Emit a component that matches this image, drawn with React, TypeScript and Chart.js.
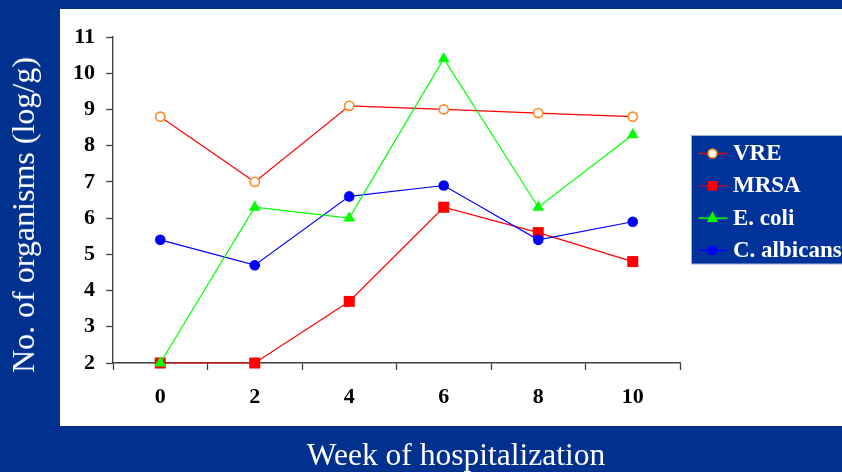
import React, { useEffect, useRef } from 'react';
import { Chart, registerables } from 'chart.js';

Chart.register(...registerables);

// Weeks of hospitalization (category labels on the x axis)
const weeks = ['0', '2', '4', '6', '8', '10'];

// Organism counts, log/g
const vre = [8.8, 7.0, 9.1, 9.0, 8.9, 8.8];
const mrsa = [2.0, 2.0, 3.7, 6.3, 5.6, 4.8];
const eColi = [2.0, 6.3, 6.0, 10.4, 6.3, 8.3];
const cAlbicans = [5.4, 4.7, 6.6, 6.9, 5.4, 5.9];

const yMin = 2;
const yMax = 11;

const SERIF = "'Liberation Serif', 'Times New Roman', serif";
const PAGE_BLUE = '#00318F';

type MarkerSpec = { style: string; fill: string; stroke: string; lineWidth: number; r: number };

function drawMarker(ctx: CanvasRenderingContext2D, m: MarkerSpec, x: number, y: number) {
  const r = m.r;
  ctx.save();
  ctx.beginPath();
  if (m.style === 'rect') {
    ctx.rect(x - r, y - r, 2 * r, 2 * r);
  } else if (m.style === 'triangle') {
    const h = r * Math.sqrt(3);
    ctx.moveTo(x, y - r * 1.05);
    ctx.lineTo(x + h / 2, y + r * 0.6);
    ctx.lineTo(x - h / 2, y + r * 0.6);
    ctx.closePath();
  } else {
    ctx.arc(x, y, r, 0, Math.PI * 2);
  }
  ctx.fillStyle = m.fill;
  ctx.fill();
  if (m.lineWidth > 0) {
    ctx.lineWidth = m.lineWidth;
    ctx.strokeStyle = m.stroke;
    ctx.stroke();
  }
  ctx.restore();
}

// Boxed legend drawn to the right of the plot, built from the datasets
const sideLegend = {
  id: 'sideLegend',
  afterDraw(chart: any) {
    const ctx: CanvasRenderingContext2D = chart.ctx;
    const area = chart.chartArea;
    const boxLeft = area.right + 11.5;
    const boxTop = 135.5;
    const boxW = 170;
    const boxH = 128.5;
    ctx.save();
    ctx.fillStyle = '#003399';
    ctx.fillRect(boxLeft, boxTop, boxW, boxH);
    ctx.strokeStyle = '#9fb0dc';
    ctx.lineWidth = 1;
    ctx.strokeRect(boxLeft, boxTop, boxW, boxH);

    const rowGap = 32.3;
    chart.data.datasets.forEach((ds: any, i: number) => {
      const cy = 153.5 + i * rowGap;
      const lx = boxLeft + 7;
      ctx.beginPath();
      ctx.moveTo(lx, cy);
      ctx.lineTo(lx + 29, cy);
      ctx.strokeStyle = ds.legendLine || ds.borderColor;
      ctx.lineWidth = 1.5;
      ctx.stroke();
      drawMarker(ctx, ds.legendMarker, lx + 14, cy);
      ctx.fillStyle = '#ffffff';
      ctx.font = `bold 23px ${SERIF}`;
      ctx.textBaseline = 'middle';
      ctx.textAlign = 'left';
      ctx.fillText(ds.label, boxLeft + 41.5, cy + 0.5);
    });
    ctx.restore();
  },
};

function OrganismChart() {
  const canvasRef = useRef<HTMLCanvasElement | null>(null);

  useEffect(() => {
    const canvas = canvasRef.current;
    if (!canvas) return;

    const tickFont = { family: SERIF, size: 22, weight: 'bold' as const };

    const chart = new Chart(canvas, {
      type: 'line',
      data: {
        labels: weeks,
        datasets: [
          {
            label: 'VRE',
            data: vre,
            borderColor: '#FF0000',
            borderWidth: 1.2,
            pointStyle: 'circle',
            pointRadius: 4.6,
            pointBorderWidth: 1.6,
            pointBackgroundColor: '#ffffff',
            pointBorderColor: '#FF8A20',
            clip: false,
            order: 4,
            legendLine: '#d01010',
            legendMarker: { style: 'circle', fill: '#ffffff', stroke: '#FF8A20', lineWidth: 1.6, r: 4.4 },
          } as any,
          {
            label: 'MRSA',
            data: mrsa,
            borderColor: '#FF0000',
            borderWidth: 1.2,
            pointStyle: 'rect',
            pointRadius: 7.8,
            pointBorderWidth: 0,
            pointBackgroundColor: '#FF0000',
            pointBorderColor: '#FF0000',
            clip: false,
            order: 3,
            legendLine: '#a0103a',
            legendMarker: { style: 'rect', fill: '#FF0000', stroke: '#FF0000', lineWidth: 0, r: 4.8 },
          } as any,
          {
            label: 'E. coli',
            data: eColi,
            borderColor: '#00FF00',
            borderWidth: 1.2,
            pointStyle: 'triangle',
            pointRadius: 6.8,
            pointBorderWidth: 0,
            pointBackgroundColor: '#00FF00',
            pointBorderColor: '#00FF00',
            clip: false,
            order: 1,
            legendMarker: { style: 'triangle', fill: '#00FF00', stroke: '#00FF00', lineWidth: 0, r: 6.5 },
          } as any,
          {
            label: 'C. albicans',
            data: cAlbicans,
            borderColor: '#0000FF',
            borderWidth: 1.2,
            pointStyle: 'circle',
            pointRadius: 5.3,
            pointBorderWidth: 0,
            pointBackgroundColor: '#0000FF',
            pointBorderColor: '#0000FF',
            clip: false,
            order: 2,
            legendMarker: { style: 'circle', fill: '#0000FF', stroke: '#0000FF', lineWidth: 0, r: 5 },
          } as any,
        ],
      },
      options: {
        responsive: false,
        devicePixelRatio: 1,
        animation: false,
        layout: { padding: { left: 0, top: 37, right: 162, bottom: 0 } },
        plugins: {
          legend: { display: false },
          tooltip: { enabled: false },
          title: { display: false },
        },
        elements: { line: { tension: 0 } },
        scales: {
          x: {
            type: 'category',
            offset: true,
            grid: {
              display: true,
              offset: true,
              drawOnChartArea: false,
              drawTicks: true,
              tickLength: 7,
              tickWidth: 1.3,
              tickColor: '#404040',
            },
            border: { display: true, color: '#404040', width: 1.4 },
            ticks: { color: '#000000', font: tickFont, padding: 14, maxRotation: 0 },
            afterFit(scale: any) {
              scale.height = 109;
            },
          },
          y: {
            type: 'linear',
            min: yMin,
            max: yMax,
            grid: {
              display: true,
              drawOnChartArea: false,
              drawTicks: true,
              tickLength: 7,
              tickWidth: 1.3,
              tickColor: '#404040',
            },
            border: { display: true, color: '#404040', width: 1.4 },
            ticks: { stepSize: 1, color: '#000000', font: tickFont, padding: 11 },
            afterFit(scale: any) {
              scale.width = 113;
            },
          },
        },
      },
      plugins: [sideLegend],
    });

    return () => {
      chart.destroy();
    };
  }, []);

  return (
    <canvas
      ref={canvasRef}
      width={842}
      height={472}
      style={{ position: 'absolute', left: 0, top: 0, width: 842, height: 472 }}
    />
  );
}

export default function App() {
  return (
    <div
      style={{
        position: 'absolute',
        left: 0,
        top: 0,
        width: 842,
        height: 472,
        overflow: 'hidden',
        background: PAGE_BLUE,
      }}
    >
      <div
        style={{
          position: 'absolute',
          left: 60,
          top: 9,
          width: 782,
          height: 417,
          background: '#ffffff',
        }}
      />
      <OrganismChart />
      <div
        style={{
          position: 'absolute',
          left: 23,
          top: 215,
          transform: 'translate(-50%, -50%) rotate(-90deg)',
          color: '#ffffff',
          fontFamily: SERIF,
          fontSize: 32,
          lineHeight: 1,
          whiteSpace: 'nowrap',
        }}
      >
        No. of organisms (log/g)
      </div>
      <div
        style={{
          position: 'absolute',
          left: 456,
          top: 455,
          transform: 'translate(-50%, -50%)',
          color: '#ffffff',
          fontFamily: SERIF,
          fontSize: 31.5,
          lineHeight: 1,
          whiteSpace: 'nowrap',
        }}
      >
        Week of hospitalization
      </div>
    </div>
  );
}
